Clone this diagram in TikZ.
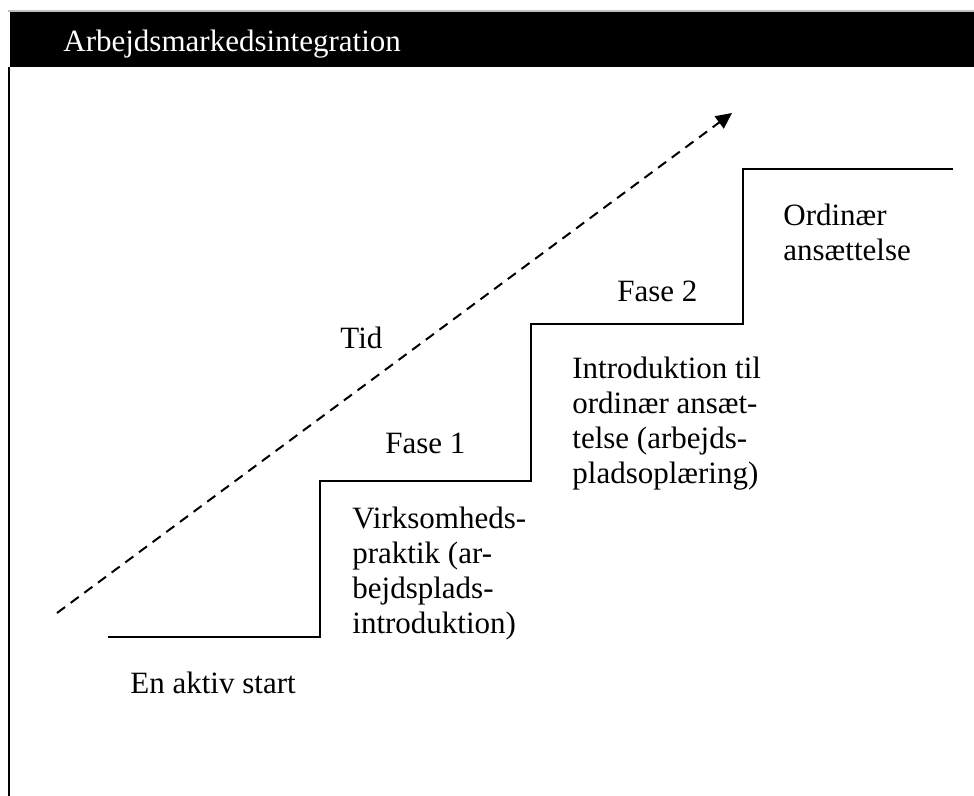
\documentclass[tikz,border=0pt]{standalone}
\usepackage{fontspec}
\setmainfont{Liberation Serif}
\usetikzlibrary{arrows.meta}

\begin{document}
\begin{tikzpicture}[x=0.5pt, y=-0.5pt, font=\fontsize{15.5}{17.5}\selectfont,
  stair/.style={line width=1pt},
  tidarr/.style={dash pattern=on 5pt off 3.5pt, line width=1pt, -{Triangle[length=8pt,width=7.5pt]}},
  lbl/.style={inner sep=0pt, anchor=base west},
  blk/.style={inner sep=0pt, anchor=north west, align=left}]
\useasboundingbox (0,0) rectangle (974,796);
% title bar and frame
\draw[gray!50, line width=0.6pt] (8,11) -- (974,11);
\fill[black] (10,12) rectangle (974,67);
\node[lbl, text=white] (title) at (63,52) {Arbejdsmarkedsintegration};
\draw[line width=1.2pt] (9,67) -- (9,796);
% staircase
\coordinate (st0) at (108,637);
\coordinate (st1) at (320,481);
\coordinate (st2) at (531,324);
\coordinate (st3) at (743,169);
\coordinate (st4) at (953,169);
\draw[stair] (st0) -| (st1) -| (st2) -| (st3) -- (st4);
% time arrow
\coordinate (t0) at (57,613);
\coordinate (t1) at (732,113);
\draw[tidarr] (t0) -- (t1);
\node[lbl] (tid) at (340,349) {Tid};
\node[lbl] (fase1) at (385,453) {Fase 1};
\node[lbl] (fase2) at (617,302) {Fase 2};
\node[lbl] (start) at (130,693) {En aktiv start};
\node[blk] (praktik) at (352,506.8) {Virksomheds-\\praktik (ar-\\bejdsplads-\\introduktion)};
\node[blk] (intro) at (572,356.8) {Introduktion til\\ordinær ansæt-\\telse (arbejds-\\pladsoplæring)};
\node[blk] (ordinaer) at (783,203.6) {Ordinær\\ansættelse};
\end{tikzpicture}
\end{document}
